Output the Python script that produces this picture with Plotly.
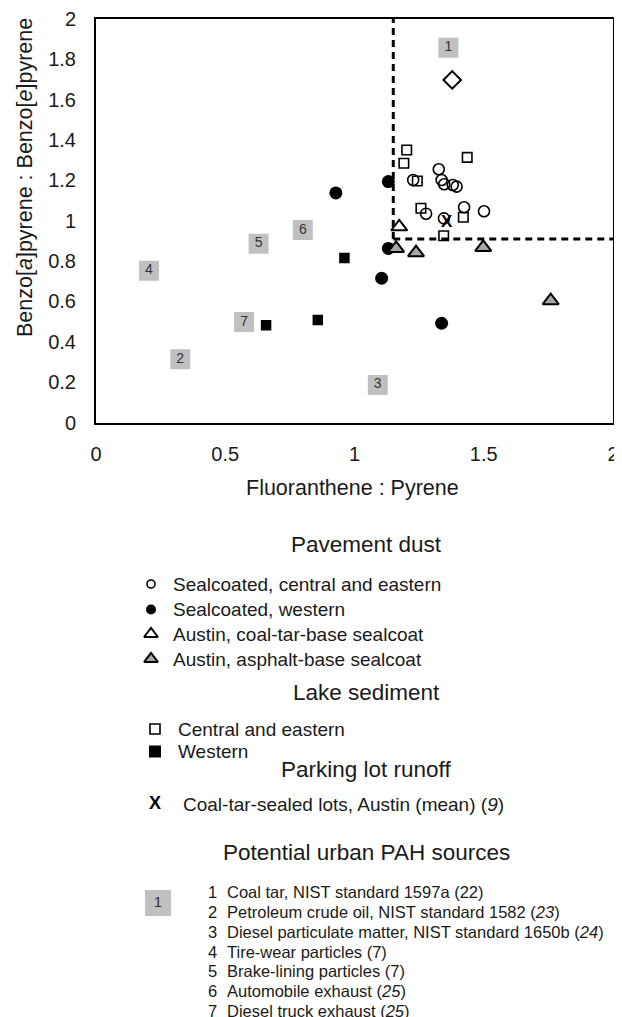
import plotly.graph_objects as go

# ---------------- data ----------------
# Pavement dust
sc_ce_x = [1.326, 1.337, 1.347, 1.380, 1.395, 1.227, 1.277, 1.424, 1.501, 1.346]
sc_ce_y = [1.255, 1.202, 1.181, 1.177, 1.169, 1.202, 1.035, 1.067, 1.047, 1.012]
sc_w_x = [1.131, 0.928, 1.131, 1.105, 1.337]
sc_w_y = [1.194, 1.138, 0.863, 0.715, 0.492]
ctb_x = [1.173]
ctb_y = [0.970]
ab_x = [1.161, 1.238, 1.498, 1.759]
ab_y = [0.863, 0.842, 0.868, 0.604]
# Lake sediment
lake_ce_x = [1.202, 1.191, 1.436, 1.243, 1.257, 1.421, 1.345]
lake_ce_y = [1.351, 1.285, 1.314, 1.197, 1.062, 1.017, 0.926]
lake_w_x = [0.961, 0.658, 0.858]
lake_w_y = [0.815, 0.482, 0.508]
# Parking lot runoff
runoff_x = [1.357]
runoff_y = [0.990]
# Coal tar NIST standard (diamond)
coaltar_x = [1.378]
coaltar_y = [1.698]
# Potential urban PAH sources (grey boxes)
src_ids = ["1", "2", "3", "4", "5", "6", "7"]
src_x = [1.363, 0.326, 1.090, 0.205, 0.629, 0.800, 0.573]
src_y = [1.858, 0.313, 0.186, 0.752, 0.886, 0.954, 0.498]
# threshold lines
thr_x = 1.15
thr_y = 0.91

x_ticks = [0, 0.5, 1, 1.5, 2]
x_tick_labels = ["0", "0.5", "1", "1.5", "2"]
y_ticks = [0, 0.2, 0.4, 0.6, 0.8, 1, 1.2, 1.4, 1.6, 1.8, 2]
y_tick_labels = ["0", "0.2", "0.4", "0.6", "0.8", "1", "1.2", "1.4", "1.6", "1.8", "2"]

x_title = "Fluoranthene : Pyrene"
y_title = "Benzo[<i>a</i>]pyrene : Benzo[<i>e</i>]pyrene"

pave_title = "Pavement dust"
pave_labels = ["Sealcoated, central and eastern", "Sealcoated, western",
               "Austin, coal-tar-base sealcoat", "Austin, asphalt-base sealcoat"]
lake_title = "Lake sediment"
lake_labels = ["Central and eastern", "Western"]
runoff_title = "Parking lot runoff"
runoff_label = "Coal-tar-sealed lots, Austin (mean) (<i>9</i>)"
src_title = "Potential urban PAH sources"
src_labels = ["Coal tar, NIST standard 1597a (22)",
              "Petroleum crude oil, NIST standard 1582 (<i>23</i>)",
              "Diesel particulate matter, NIST standard 1650b (<i>24</i>)",
              "Tire-wear particles (7)",
              "Brake-lining particles (7)",
              "Automobile exhaust (<i>25</i>)",
              "Diesel truck exhaust (<i>25</i>)"]

# ---------------- layout constants (page pixels) ----------------
PAGE_W, PAGE_H = 622, 1017
OX, OY = 8, 8                       # default body margin of the html page
W, H = PAGE_W - OX, PAGE_H - OY     # figure size
FL, FR, FT, FB = 96, 613, 19, 422.5  # plot frame in page pixels
LEG_TOP = 470
FONT = "Liberation Sans, Arial, sans-serif"
TXT = "#1a1a1a"
BOX = "#c0c0c0"
TRI = "#a6a6a6"


def pxx(x):
    return (x - OX) / W


def pxy(y):
    return 1 - (y - OY) / H


fig = go.Figure()


def sc(**kw):
    kw.setdefault("hoverinfo", "skip")
    kw.setdefault("showlegend", False)
    fig.add_trace(go.Scatter(**kw))


# threshold dashed lines
sc(x=[thr_x, thr_x], y=[thr_y, 2], mode="lines",
   line=dict(color="black", width=3, dash="7px,5px"))
sc(x=[thr_x, 2], y=[thr_y, thr_y], mode="lines",
   line=dict(color="black", width=3, dash="7px,5px"))

# grey source boxes
sc(x=src_x, y=src_y, mode="markers+text", text=src_ids, textposition="middle center",
   marker=dict(symbol="square", size=20, color=BOX, line=dict(width=0)),
   textfont=dict(family=FONT, size=14, color="#333333"))

# data points
sc(x=sc_ce_x, y=sc_ce_y, mode="markers",
   marker=dict(symbol="circle-open", size=11, color="black", line=dict(width=1.6)))
sc(x=lake_ce_x, y=lake_ce_y, mode="markers",
   marker=dict(symbol="square-open", size=9.5, color="black", line=dict(width=1.6)))
sc(x=sc_w_x, y=sc_w_y, mode="markers",
   marker=dict(symbol="circle", size=13, color="black", line=dict(width=0)))
sc(x=lake_w_x, y=lake_w_y, mode="markers",
   marker=dict(symbol="square", size=10.5, color="black", line=dict(width=0)))
sc(x=ctb_x, y=ctb_y, mode="markers",
   marker=dict(symbol="triangle-up", size=14, color="white", line=dict(width=2, color="black")))
sc(x=ab_x, y=ab_y, mode="markers",
   marker=dict(symbol="triangle-up", size=14, color=TRI, line=dict(width=2, color="black")))
sc(x=runoff_x, y=runoff_y, mode="text", text=["<b>X</b>"], textposition="middle center",
   textfont=dict(family=FONT, size=17, color="black"))
sc(x=coaltar_x, y=coaltar_y, mode="markers",
   marker=dict(symbol="diamond", size=13.5, color="white", line=dict(width=2, color="black")))

# ---------------- legend (page-pixel axes x2/y2) ----------------
L = dict(xaxis="x2", yaxis="y2")
ann = []


def text(x, y, s, size, anchor="left"):
    ann.append(dict(x=x, y=y, xref="x2", yref="y2", text=s, showarrow=False,
                    xanchor=anchor, yanchor="middle",
                    font=dict(family=FONT, size=size, color=TXT)))


# Pavement dust
text(366, 544, pave_title, 22.5, "center")
pave_rows = [584, 609.5, 634, 659]
pave_sym = [dict(symbol="circle-open", size=8, color="black", line=dict(width=1.6)),
            dict(symbol="circle", size=10, color="black", line=dict(width=0)),
            dict(symbol="triangle-up", size=12, color="white", line=dict(width=2, color="black")),
            dict(symbol="triangle-up", size=12, color=TRI, line=dict(width=2, color="black"))]
for yy, lab, m in zip(pave_rows, pave_labels, pave_sym):
    sc(x=[151], y=[yy], mode="markers", marker=m, **L)
    text(171, yy, lab, 19)

# Lake sediment
text(366, 692, lake_title, 22.5, "center")
lake_rows = [729, 751.5]
lake_sym = [dict(symbol="square-open", size=10, color="black", line=dict(width=1.6)),
            dict(symbol="square", size=12, color="black", line=dict(width=0))]
for yy, lab, m in zip(lake_rows, lake_labels, lake_sym):
    sc(x=[155], y=[yy], mode="markers", marker=m, **L)
    text(176, yy, lab, 19)

# Parking lot runoff
text(366, 769, runoff_title, 22.5, "center")
sc(x=[155], y=[804], mode="text", text=["<b>X</b>"], textposition="middle center",
   textfont=dict(family=FONT, size=18, color="black"), **L)
text(181, 804, runoff_label, 19)

# Potential urban PAH sources
text(366, 852, src_title, 22.5, "center")
sc(x=[158], y=[903], mode="markers+text", text=["1"], textposition="middle center",
   marker=dict(symbol="square", size=26, color=BOX, line=dict(width=0)),
   textfont=dict(family=FONT, size=15, color="#333333"), **L)
src_rows = [892, 912, 932, 951.5, 971, 991, 1010.5]
for yy, sid, lab in zip(src_rows, src_ids, src_labels):
    text(206, yy, sid, 16.5)
    text(225, yy, lab, 16.5)

# axis titles
ann.append(dict(x=pxx(352), y=pxy(488), xref="paper", yref="paper", text=x_title,
                showarrow=False, xanchor="center", yanchor="middle",
                font=dict(family=FONT, size=21.5, color=TXT)))
ann.append(dict(x=pxx(25), y=pxy(178), xref="paper", yref="paper", text=y_title,
                showarrow=False, textangle=-90, xanchor="center", yanchor="middle",
                font=dict(family=FONT, size=21.5, color=TXT)))

axis_common = dict(showgrid=False, zeroline=False, showline=True, mirror=True,
                   linecolor="black", linewidth=2, ticks="", automargin=False,
                   tickfont=dict(family=FONT, size=20, color=TXT))

fig.update_layout(
    width=W, height=H, margin=dict(l=0, r=0, t=0, b=0, autoexpand=False),
    paper_bgcolor="white", plot_bgcolor="rgba(0,0,0,0)", showlegend=False,
    font=dict(family=FONT, color=TXT),
    xaxis=dict(domain=[pxx(FL), pxx(FR)], range=[0, 2], tickvals=x_ticks,
               ticktext=x_tick_labels, anchor="y", ticklabelstandoff=12, **axis_common),
    yaxis=dict(domain=[pxy(FB), pxy(FT)], range=[0, 2], tickvals=y_ticks,
               ticktext=y_tick_labels, anchor="x", ticklabelstandoff=14, **axis_common),
    xaxis2=dict(domain=[0, 1], range=[OX, PAGE_W], visible=False, anchor="y2",
                automargin=False),
    yaxis2=dict(domain=[0, pxy(LEG_TOP)], range=[PAGE_H, LEG_TOP], visible=False,
                anchor="x2", automargin=False),
    annotations=ann,
)

fig.write_html("out.html")
